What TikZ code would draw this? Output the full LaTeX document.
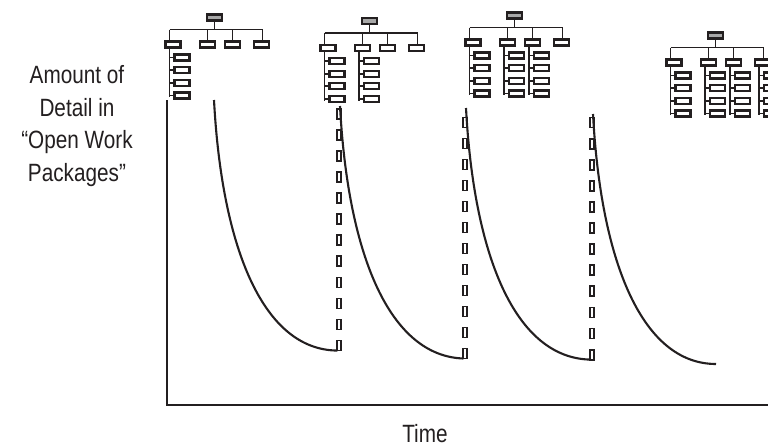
\documentclass[tikz,border=0pt]{standalone}
\usepackage{fontspec}
\newfontfamily\cond[FakeStretch=0.83]{Liberation Sans}
\usetikzlibrary{calc}
\definecolor{ink}{HTML}{231F20}
\definecolor{rootgray}{HTML}{A8A8A8}
\tikzset{
  wbox/.style={draw=ink, line width=2.1pt, fill=white, minimum width=15pt, minimum height=6pt, inner sep=0pt, outer sep=0pt},
  rootbox/.style={wbox, fill=rootgray},
  tline/.style={draw=ink, line width=1.7pt},
  dbox/.style={draw=ink, line width=1.8pt, fill=white, minimum width=3.3pt, minimum height=10pt, inner sep=0pt, outer sep=0pt},
  curveline/.style={draw=ink, line width=2.1pt},
  axisline/.style={draw=ink, line width=2.1pt},
  lbl/.style={text=ink, font=\cond\fontsize{25}{32.8}\selectfont, align=center, inner sep=0pt},
}
% #1 name, #2 x, #3 y, #4 number of expanded columns
\newcommand\wbstree[4]{%
  \begin{scope}[shift={(#2,#3)}]
    \node[rootbox] (#1r) at (0,0) {};
    \coordinate (#1bl) at (-45,12);
    \coordinate (#1bm) at (0,12);
    \coordinate (#1br) at (48,12);
    \draw[tline] (#1r.south) -- (#1bm);
    \draw[tline] (#1bl) -- (#1br);
    \foreach \k/\cx in {1/-41.5,2/-7,3/18,4/47} {
      \node[wbox] (#1-\k) at (\cx,27) {};
    }
    \draw[tline] (#1bl) -- ($(#1-1.north)+(-3.5,0)$);
    \draw[tline] (#1-2.north) -- (#1-2.north |- #1bl);
    \draw[tline] (#1-3.north) -- (#1-3.north |- #1bl);
    \draw[tline] ($(#1-4.north)+(1,0)$) -- (#1br);
    \foreach \j in {1,...,#4} {
      \foreach \i in {0,...,3} {
        \node[wbox] (#1-\j-\i) at ($(#1-\j.center)+(9,13+12.67*\i)$) {};
        \draw[tline] (#1-\j-\i.west) -- ++(-4.2,0);
      }
      \draw[tline] ($(#1-\j.south)+(-3.5,0)$) -- ($(#1-\j-3.center)+(-12.5,1.5)$);
    }
  \end{scope}}
\begin{document}
\begin{tikzpicture}[x=1pt,y=-1pt]
  \clip (0,0) rectangle (768,447);
  \useasboundingbox (0,0) rectangle (768,447);

  % axes
  \coordinate (ytop) at (167,100);
  \coordinate (xend) at (768,405);
  \draw[axisline] (ytop) |- (xend);

  % labels
  \node[lbl] (ylabel) at (77,126) {Amount of\\Detail in\\“Open Work\\Packages”};
  \node[lbl] (xlabel) at (425,434) {Time};

  % dashed columns (jumps in detail)
  \foreach \i in {0,...,11} {
    \node[dbox] (ca\i) at (339,114+21.05*\i) {};
    \node[dbox] (cb\i) at (465,122.5+21*\i) {};
    \node[dbox] (cc\i) at (592,122.5+21.1*\i) {};
  }

  % decay curves
  \coordinate (s1) at (214,100);
  \coordinate (s2) at (340,106);
  \coordinate (s3) at (466,108);
  \coordinate (s4) at (593,114);
  \coordinate (e4) at (716,364);
  \draw[curveline] (s1) .. controls ($(s1)+(8,150)$) and ($(s1)+(50,250)$) .. (ca11.south west);
  \draw[curveline] (s2) .. controls ($(s2)+(8,150)$) and ($(s2)+(50,250)$) .. (cb11.south west);
  \draw[curveline] (s3) .. controls ($(s3)+(8,150)$) and ($(s3)+(50,250)$) .. (cc11.south west);
  \draw[curveline] (s4) .. controls ($(s4)+(8,150)$) and ($(s4)+(50,250)$) .. (e4);

  % WBS trees
  \wbstree{ta}{214.5}{17.5}{1}
  \wbstree{tb}{369.5}{21}{2}
  \wbstree{tc}{514.5}{15.5}{3}
  \wbstree{td}{715.5}{35.5}{4}
\end{tikzpicture}
\end{document}
